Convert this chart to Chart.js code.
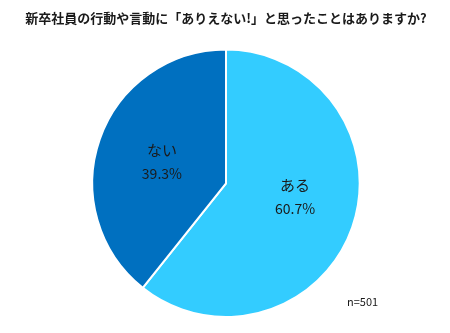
<!DOCTYPE html>
<html>
<head>
    <meta charset="utf-8">
    <title>新卒社員の行動や言動</title>
    <script src="https://cdn.jsdelivr.net/npm/chart.js@4.4.1/dist/chart.umd.min.js"></script>
    <style>
        body { margin: 0; background: #fff; }
        #wrap { position: relative; width: 450px; height: 333px; }
    </style>
</head>
<body>
<div id="wrap">
    <canvas id="myChart" width="450" height="333"></canvas>
</div>
<script>

const titleText = '新卒社員の行動や言動に「ありえない!」と思ったことはありますか?';
const labels = ['ある', 'ない'];
const values = [60.7, 39.3];
const colors = ['#33CCFF', '#0070C0'];
const noteText = 'n=501';

const jpFont = '"Noto Sans CJK JP", "Noto Sans", sans-serif';

// nudge of each slice label from its arc's centre point
const labelNudge = [[6, -9], [-1, 0]];

// label inside each slice: name on one line, percent below
const sliceLabels = {
    id: 'sliceLabels',
    afterDatasetsDraw(chart) {
        const ctx = chart.ctx;
        const meta = chart.getDatasetMeta(0);
        ctx.save();
        ctx.fillStyle = '#1a1a1a';
        ctx.textAlign = 'center';
        ctx.textBaseline = 'middle';
        meta.data.forEach((arc, i) => {
            const p = arc.tooltipPosition();
            const x = p.x + labelNudge[i][0];
            const y = p.y + labelNudge[i][1];
            ctx.font = '15px ' + jpFont;
            ctx.fillText(labels[i], x, y - 11);
            ctx.font = '14px ' + jpFont;
            ctx.fillText(values[i].toFixed(1) + '%', x, y + 12);
        });
        ctx.restore();
    }
};

const noteLabel = {
    id: 'noteLabel',
    afterDraw(chart) {
        const ctx = chart.ctx;
        ctx.save();
        ctx.fillStyle = '#1a1a1a';
        ctx.font = '11px ' + jpFont;
        ctx.textAlign = 'left';
        ctx.textBaseline = 'middle';
        ctx.fillText(noteText, 347, 302);
        ctx.restore();
    }
};

const ctx = document.getElementById('myChart').getContext('2d');

const myChart = new Chart(ctx, {
    type: 'pie',
    data: {
        labels: labels,
        datasets: [{
            data: values,
            backgroundColor: colors,
            borderColor: '#ffffff',
            borderWidth: 2
        }]
    },
    options: {
        responsive: false,
        animation: false,
        layout: {
            padding: { left: 2, right: 0, top: 0, bottom: 15 }
        },
        plugins: {
            legend: { display: false },
            tooltip: { enabled: false },
            title: {
                display: true,
                text: titleText,
                color: '#1a1a1a',
                font: { family: jpFont, size: 13, weight: 'bold' },
                padding: { top: 10, bottom: 23 }
            }
        }
    },
    plugins: [sliceLabels, noteLabel]
});

</script>
</body>
</html>
